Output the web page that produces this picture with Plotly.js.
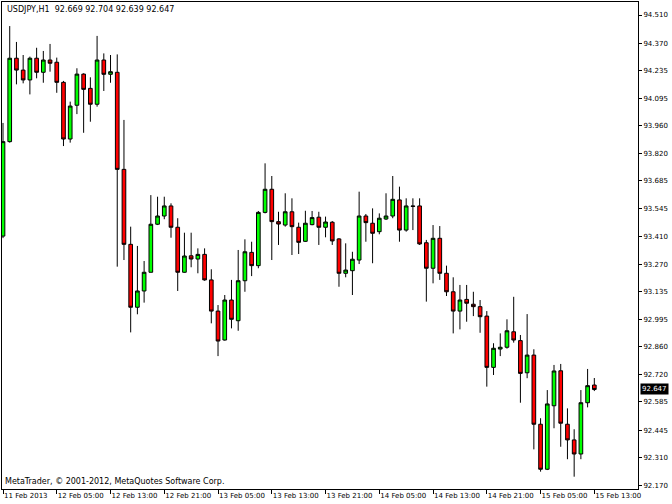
<!DOCTYPE html>
<html>
<head>
<meta charset="utf-8">
<script src="https://cdn.plot.ly/plotly-3.0.1.min.js"></script>
<style>html,body{margin:0;padding:0;background:#fff;}#chart{width:672px;height:504px;}</style>
</head>
<body>
<div id="chart"></div>
<script>
// USDJPY H1 candles, 11 Feb 2013 21:00 .. 15 Feb 2013 13:00
const opens = [93.410,93.880,94.295,94.236,94.187,94.295,94.225,94.286,94.275,94.175,
93.893,94.061,94.216,94.145,94.066,94.286,94.215,94.225,93.742,93.369,
93.056,93.137,93.230,93.469,93.510,93.560,93.454,93.230,93.312,93.296,
93.319,93.192,93.037,92.893,93.092,92.989,93.188,93.329,93.263,93.528,
93.643,93.482,93.465,93.531,93.454,93.384,93.467,93.504,93.454,93.479,
93.396,93.225,93.238,93.291,93.510,93.474,93.432,93.495,93.510,93.590,
93.440,93.560,93.560,93.377,93.250,93.399,93.225,93.133,93.037,93.095,
93.071,93.059,93.012,92.757,92.848,92.857,92.934,92.890,92.730,92.818,
92.474,92.250,92.566,92.740,92.474,92.396,92.326,92.581,92.669];
const highs = [93.973,94.455,94.376,94.311,94.303,94.347,94.331,94.366,94.298,94.182,
94.079,94.245,94.220,94.200,94.406,94.319,94.311,94.314,93.988,93.457,
93.361,93.286,93.614,93.606,93.606,93.573,93.499,93.427,93.427,93.349,
93.349,93.245,93.067,93.117,93.192,93.341,93.394,93.382,93.535,93.772,
93.709,93.531,93.623,93.598,93.477,93.536,93.535,93.531,93.507,93.485,
93.400,93.374,93.332,93.631,93.520,93.548,93.523,93.623,93.709,93.656,
93.598,93.598,93.598,93.391,93.465,93.460,93.263,93.205,93.167,93.167,
93.133,93.092,93.037,92.877,92.926,92.996,93.108,92.918,93.022,92.847,
92.504,92.644,92.769,92.774,92.553,92.449,92.644,92.749,92.704];
const lows = [93.400,93.875,94.165,94.170,94.115,94.195,94.173,94.228,94.123,93.858,
93.875,94.017,93.924,93.979,94.054,94.132,94.173,93.258,93.291,92.931,
93.021,93.079,93.230,93.465,93.494,93.402,93.137,93.228,93.255,93.225,
93.188,92.976,92.813,92.890,92.951,92.939,93.133,93.211,93.250,93.523,
93.291,93.366,93.457,93.316,93.321,93.381,93.464,93.366,93.404,93.366,
93.158,93.205,93.117,93.271,93.382,93.275,93.419,93.490,93.499,93.382,
93.432,93.440,93.366,93.084,93.175,93.192,93.112,92.926,92.946,92.984,
93.012,92.929,92.661,92.719,92.813,92.850,92.880,92.581,92.703,92.349,
92.238,92.246,92.454,92.362,92.300,92.213,92.300,92.558,92.639];
const closes = [93.880,94.295,94.236,94.187,94.295,94.225,94.286,94.270,94.175,93.893,
94.057,94.216,94.140,94.066,94.286,94.215,94.228,93.742,93.369,93.056,
93.137,93.230,93.469,93.510,93.560,93.454,93.230,93.311,93.296,93.319,
93.192,93.037,92.888,93.092,92.996,93.188,93.332,93.263,93.528,93.643,
93.482,93.470,93.531,93.457,93.379,93.474,93.502,93.454,93.480,93.386,
93.225,93.241,93.295,93.510,93.477,93.424,93.499,93.510,93.593,93.440,
93.560,93.558,93.371,93.250,93.399,93.225,93.133,93.037,93.092,93.076,
93.059,93.009,92.757,92.852,92.857,92.939,92.893,92.727,92.818,92.474,
92.250,92.575,92.739,92.479,92.396,92.326,92.581,92.666,92.647];

const xTickIndex = [0,8,16,24,32,40,48,56,64,72,80,88];
const xTickLabels = ["11 Feb 2013","12 Feb 05:00","12 Feb 13:00","12 Feb 21:00","13 Feb 05:00",
"13 Feb 13:00","13 Feb 21:00","14 Feb 05:00","14 Feb 13:00","14 Feb 21:00","15 Feb 05:00","15 Feb 13:00"];
const yTickValues = [94.510,94.370,94.235,94.095,93.960,93.820,93.685,93.545,93.410,93.270,
93.135,92.995,92.860,92.720,92.585,92.445,92.310,92.170];
const yTickLabels = yTickValues.map(v => v.toFixed(3));
const symbolName = "USDJPY,H1";
const lastBar = {o: 92.669, h: 92.704, l: 92.639, c: 92.647};

const xs = opens.map((_, i) => i);
const fam = "DejaVu Sans, Tahoma, sans-serif";
const tickFont = {family: fam, size: 7, color: "#000"};
const textFont = {family: fam, size: 8, color: "#000"};

const trace = {
  type: "candlestick",
  x: xs, open: opens, high: highs, low: lows, close: closes,
  increasing: {line: {color: "#000", width: 1}, fillcolor: "#00FF00"},
  decreasing: {line: {color: "#000", width: 1}, fillcolor: "#FF0000"},
  whiskerwidth: 0,
  hoverinfo: "none",
  showlegend: false
};

const layout = {
  width: 672, height: 504,
  margin: {l: 2, r: 34, t: 2, b: 15, pad: 0},
  paper_bgcolor: "#fff", plot_bgcolor: "#fff",
  boxgap: 0.22,
  font: tickFont,
  showlegend: false,
  xaxis: {
    range: [-0.15, 94.5], rangeslider: {visible: false},
    showgrid: false, zeroline: false, showline: true, mirror: true,
    linecolor: "#000", linewidth: 1,
    ticks: "outside", ticklen: 4, tickcolor: "#000", tickwidth: 1,
    tickmode: "array", tickvals: xTickIndex, ticktext: xTickLabels,
    ticklabelposition: "outside right", tickangle: 0,
    tickfont: tickFont, automargin: false, fixedrange: true
  },
  yaxis: {
    side: "right", range: [92.1518, 94.5747],
    showgrid: false, zeroline: false, showline: true, mirror: true,
    linecolor: "#000", linewidth: 1,
    ticks: "outside", ticklen: 3, tickcolor: "#000", tickwidth: 1,
    tickmode: "array", tickvals: yTickValues, ticktext: yTickLabels,
    tickfont: tickFont, automargin: false, fixedrange: true
  },
  annotations: [
    {xref: "paper", yref: "paper", x: 0, y: 1, xanchor: "left", yanchor: "top",
     xshift: 3, yshift: -1, showarrow: false, font: textFont,
     text: symbolName + "&nbsp; " + [lastBar.o, lastBar.h, lastBar.l, lastBar.c].map(v => v.toFixed(3)).join(" ")},
    {xref: "paper", yref: "paper", x: 0, y: 0, xanchor: "left", yanchor: "bottom",
     xshift: 1, yshift: 1, showarrow: false, font: textFont,
     text: "MetaTrader, © 2001-2012, MetaQuotes Software Corp."},
    {xref: "paper", yref: "y", x: 1, y: lastBar.c, xanchor: "left", yanchor: "middle",
     xshift: 2, showarrow: false, bgcolor: "#000", borderpad: 1,
     font: {family: fam, size: 7, color: "#fff"},
     text: lastBar.c.toFixed(3)}
  ]
};

Plotly.newPlot("chart", [trace], layout, {displayModeBar: false, staticPlot: true});
</script>
</body>
</html>
